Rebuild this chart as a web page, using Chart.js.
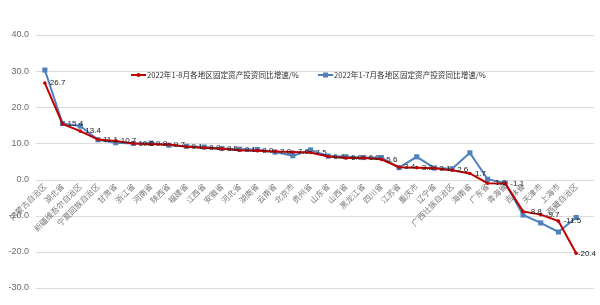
<!DOCTYPE html>
<html><head><meta charset="utf-8">
<script src="https://cdn.jsdelivr.net/npm/chart.js@4.4.1/dist/chart.umd.min.js"></script>
<style>html,body{margin:0;padding:0;background:#fff}#wrap{width:600px;height:305px;position:relative}</style>
</head><body><div id="wrap"><canvas id="c"></canvas></div>
<script>
const categories = ['内蒙古自治区','湖北省','新疆维吾尔自治区','宁夏回族自治区','甘肃省','浙江省','河南省','陕西省','福建省','江西省','安徽省','河北省','湖南省','云南省','北京市','贵州省','山东省','山西省','黑龙江省','四川省','江苏省','重庆市','辽宁省','广西壮族自治区','海南省','广东省','青海省','吉林省','天津市','上海市','西藏自治区'];
const growthJanAug = [26.7,15.4,13.4,11.1,10.7,10.0,9.8,9.7,9.1,8.8,8.5,8.1,8.0,7.8,7.6,7.5,6.4,6.0,6.0,5.6,3.4,3.3,3.1,2.6,1.7,-1.0,-1.1,-8.8,-9.7,-11.5,-20.4];
const growthJanJul = [30.3,15.5,14.8,11.0,10.2,10.0,10.1,9.5,9.2,9.0,8.6,8.4,8.3,7.6,6.6,8.2,6.5,6.3,6.1,6.1,3.3,6.3,3.2,3.0,7.4,0.1,-1.0,-9.8,-12.0,-14.5,-10.5];
const seriesNames = ['2022年1-8月各地区固定资产投资同比增速/%','2022年1-7月各地区固定资产投资同比增速/%'];
const yTickValues = [40,30,20,10,0,-10,-20,-30];

const RED = '#C00000', BLUE = '#4F81BD';

const gridPlugin = {
  id: 'customGrid',
  beforeDraw(chart) {
    const ctx = chart.ctx, ys = chart.scales.y, a = chart.chartArea;
    ctx.save();
    ctx.strokeStyle = '#dcdcdc'; ctx.lineWidth = 1;
    yTickValues.forEach(v => {
      const y = Math.round(ys.getPixelForValue(v)) + 0.5;
      ctx.beginPath(); ctx.moveTo(a.left, y); ctx.lineTo(594, y); ctx.stroke();
    });
    ctx.restore();
  }
};

const labelPlugin = {
  id: 'valueLabels',
  afterDatasetsDraw(chart) {
    const ctx = chart.ctx, meta = chart.getDatasetMeta(0);
    ctx.save();
    ctx.font = '8px "Liberation Sans", Arial, sans-serif';
    ctx.fillStyle = '#1a1a1a'; ctx.textBaseline = 'middle'; ctx.textAlign = 'left';
    meta.data.forEach((pt, i) => {
      const txt = growthJanAug[i].toFixed(1);
      const w = ctx.measureText(txt).width;
      let x = pt.x + 5;
      if (x + w > 596) x = 596 - w;
      ctx.fillText(txt, x, pt.y);
    });
    ctx.restore();
  }
};

const legendPlugin = {
  id: 'innerLegend',
  afterDraw(chart) {
    const ctx = chart.ctx;
    const y = 75;
    const items = [{x: 131, color: RED, style: 'circle', text: seriesNames[0]}, {x: 318, color: BLUE, style: 'rect', text: seriesNames[1]}];
    ctx.save();
    items.forEach(it => {
      ctx.strokeStyle = it.color; ctx.lineWidth = 2;
      ctx.beginPath(); ctx.moveTo(it.x, y); ctx.lineTo(it.x + 15, y); ctx.stroke();
      ctx.fillStyle = it.color;
      if (it.style === 'circle') { ctx.beginPath(); ctx.arc(it.x + 7.5, y, 2, 0, Math.PI * 2); ctx.fill(); }
      else { ctx.fillRect(it.x + 5, y - 2.5, 5, 5); }
      ctx.fillStyle = '#333'; ctx.font = '7.6px "Noto Sans CJK SC", sans-serif';
      ctx.textBaseline = 'middle'; ctx.textAlign = 'left';
      ctx.fillText(it.text, it.x + 16, y);
    });
    ctx.restore();
  }
};

new Chart(document.getElementById('c'), {
  type: 'line',
  data: {
    labels: categories,
    datasets: [
      {label: seriesNames[0], data: growthJanAug, borderColor: RED, backgroundColor: RED, borderWidth: 2, pointRadius: 1.8, pointBorderWidth: 0, pointStyle: 'circle', tension: 0},
      {label: seriesNames[1], data: growthJanJul, borderColor: BLUE, backgroundColor: BLUE, borderWidth: 2, pointRadius: 3.6, pointBorderWidth: 0, pointStyle: 'rect', tension: 0}
    ]
  },
  options: {
    responsive: true, maintainAspectRatio: false, animation: false,
    layout: {padding: {top: 35, bottom: 17, right: 15, left: 0}},
    plugins: {legend: {display: false}, tooltip: {enabled: false}},
    scales: {
      x: {
        position: {y: 0}, offset: true,
        grid: {display: false, drawTicks: false}, border: {display: false},
        ticks: {autoSkip: false, maxRotation: 45, minRotation: 45, padding: 2, color: '#7a7a7a', font: {size: 8, family: '"Noto Sans CJK SC", sans-serif'}}
      },
      y: {
        min: -30, max: 40,
        afterFit(s) { s.width = 36; },
        grid: {display: false, drawTicks: false}, border: {display: false},
        ticks: {stepSize: 10, padding: 7, color: '#6b6b6b', font: {size: 9, family: '"Liberation Sans", Arial, sans-serif'}, callback: v => Number(v).toFixed(1)}
      }
    }
  },
  plugins: [gridPlugin, labelPlugin, legendPlugin]
});
</script></body></html>
